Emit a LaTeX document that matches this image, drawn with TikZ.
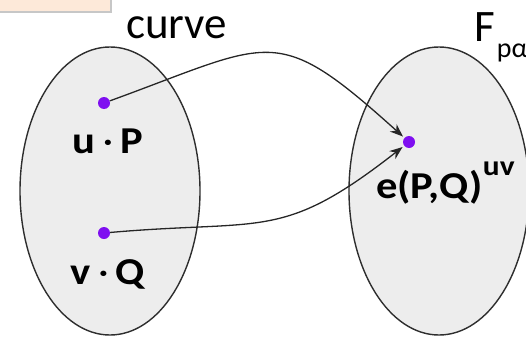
\documentclass[tikz,border=0pt]{standalone}
\usepackage{fontspec}
\setmainfont{Carlito}
\usepackage{tikz}
\usetikzlibrary{arrows.meta,positioning,shapes.geometric,calc}
\definecolor{sborder}{HTML}{2E2E2E}
\definecolor{sfill}{HTML}{EDEDED}
\definecolor{sdot}{HTML}{7F0FF0}
\definecolor{speach}{HTML}{FDE9D9}
\tikzset{
  setshape/.style={ellipse, draw=sborder, fill=sfill, line width=1.4pt, minimum width=180pt,
                   minimum height=288pt, inner sep=0pt},
  elt/.style={circle, fill=sdot, minimum size=12pt, inner sep=0pt},
  map/.style={-{Stealth[length=13pt,width=10pt]}, draw=black!85, line width=1.3pt, shorten >=2pt},
  lbl/.style={font=\bfseries\fontsize{38}{38}\selectfont, inner sep=0pt, anchor=base},
  ttl/.style={font=\fontsize{45}{45}\selectfont, inner sep=0pt, anchor=base west},
}
\newcommand{\wide}[1]{\scalebox{1.12}[1]{#1}}

\begin{document}
\begin{tikzpicture}[x=1pt,y=1pt]
  \useasboundingbox (0,0) rectangle (526,338);
  % peach box, cut by the top edge
  \fill[black!22] (-5,325) rectangle (112,345);
  \fill[speach] (-5,327) rectangle (110,345);

  \node[setshape] (curveset) at (110,147) {};
  \node[setshape] (fieldset) at (439,147) {};
  \node[ttl] (curvettl) at (126,299) {curve};
  \node[ttl] (fieldttl) at (474,296) {F\hspace{2pt}\raisebox{-16pt}{\fontsize{28}{28}\selectfont pα}};

  \node[elt] (up) at (104,235) {};
  \node[elt] (vq) at (104,105) {};
  \node[elt] (ep) at (409,196) {};
  \node[lbl] (uplbl) at ($(up)+(4,-50)$) {\wide{u\,{\mdseries·}\,P}};
  \node[lbl] (vqlbl) at ($(vq)+(4,-51)$) {\wide{v\,{\mdseries·}\,Q}};
  \node[lbl, anchor=base west] (eplbl) at (376,140)
     {\wide{e(P,Q)\raisebox{23pt}{\fontsize{28}{28}\selectfont uv}}};

  \draw[map] (up) to[out=20, in=138, looseness=1.5] (ep);
  \draw[map] (vq) to[out=5, in=218, looseness=1.3] (ep);
\end{tikzpicture}
\end{document}
